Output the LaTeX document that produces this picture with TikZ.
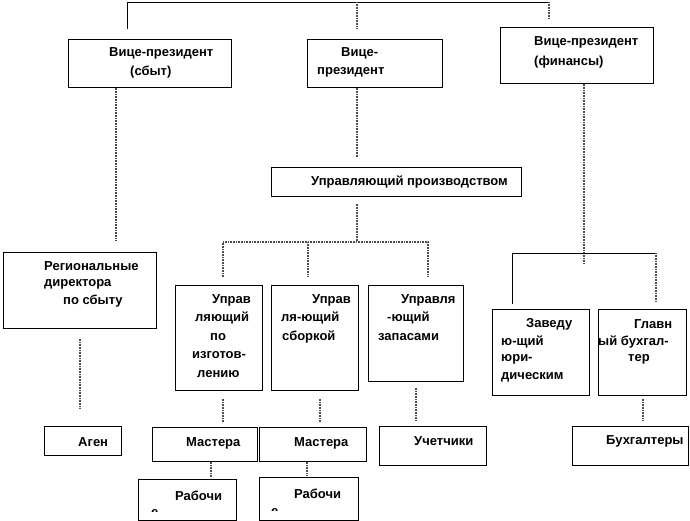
\documentclass[tikz,border=0pt]{standalone}
\usepackage{fontspec}
\setmainfont{Liberation Sans}
\begin{document}
\begin{tikzpicture}[x=1pt,y=-1pt,
  box/.style={draw=black,line width=0.7pt,anchor=north west,inner sep=0pt,fill=white},
  lbl/.style={anchor=west,inner sep=0pt,font=\fontsize{13}{15}\selectfont\bfseries},
  dotc/.style={draw=black!70,line width=1.2pt,dash pattern=on 0.8pt off 0.8pt},
  solc/.style={draw=black,line width=0.8pt}]
\useasboundingbox (0,0) rectangle (690,521);
% boxes
\node[box,minimum width=163pt,minimum height=48pt] (vps) at (68,39) {};
\node[box,minimum width=135pt,minimum height=48pt] (vpm) at (307,39) {};
\node[box,minimum width=153pt,minimum height=56pt] (vpf) at (500,27) {};
\node[box,minimum width=250pt,minimum height=29pt] (mgr) at (271,167) {};
\node[box,minimum width=153pt,minimum height=76pt] (reg) at (3,252) {};
\node[box,minimum width=87pt,minimum height=105pt] (man) at (175,285) {};
\node[box,minimum width=87pt,minimum height=105pt] (asm) at (271,285) {};
\node[box,minimum width=95pt,minimum height=96pt] (inv) at (368,285) {};
\node[box,minimum width=97pt,minimum height=86pt] (leg) at (492,309) {};
\node[box,minimum width=88pt,minimum height=86pt] (chf) at (598,309) {};
\node[box,minimum width=77pt,minimum height=29pt] (agn) at (44,426) {};
\node[box,minimum width=105pt,minimum height=34pt] (ms1) at (152,427) {};
\node[box,minimum width=107pt,minimum height=34pt] (ms2) at (259,427) {};
\node[box,minimum width=107pt,minimum height=39pt] (uch) at (379,426) {};
\node[box,minimum width=116pt,minimum height=39pt] (buh) at (572,426) {};
\node[box,minimum width=98pt,minimum height=41pt] (rb1) at (138,479) {};
\node[box,minimum width=99pt,minimum height=43pt] (rb2) at (259,477) {};
% labels
\node[lbl] (l1) at (109,53) {Вице-президент};
\node[lbl] (l2) at (130,72) {(сбыт)};
\node[lbl] (l3) at (341,53) {Вице-};
\node[lbl] (l4) at (317,72) {президент};
\node[lbl] (l5) at (534,42) {Вице-президент};
\node[lbl] (l6) at (534,62) {(финансы)};
\node[lbl] (l7) at (311,182) {Управляющий производством};
\node[lbl] (l8) at (44,266) {Региональные};
\node[lbl] (l9) at (44,284) {директора};
\node[lbl] (l10) at (63,301) {по сбыту};
\node[lbl] (l11) at (212,300) {Управ};
\node[lbl] (l12) at (195,318) {ляющий};
\node[lbl] (l13) at (210,337) {по};
\node[lbl] (l14) at (192,355) {изготов-};
\node[lbl] (l15) at (197,374) {лению};
\node[lbl] (l16) at (312,300) {Управ};
\node[lbl] (l17) at (281,318) {ля-ющий};
\node[lbl] (l18) at (282,337) {сборкой};
\node[lbl] (l19) at (401,300) {Управля};
\node[lbl] (l20) at (387,318) {-ющий};
\node[lbl] (l21) at (378,337) {запасами};
\node[lbl] (l22) at (526,324) {Заведу};
\node[lbl] (l23) at (501,342) {ю-щий};
\node[lbl] (l24) at (501,359) {юри-};
\node[lbl] (l25) at (501,377) {дическим};
\node[lbl] (l26) at (634,324) {Главн};
\node[lbl] (l27) at (598,342) {ый бухгал-};
\node[lbl] (l28) at (628,359) {тер};
\node[lbl] (l29) at (78,442) {Аген};
\node[lbl] (l30) at (186,443) {Мастера};
\node[lbl] (l31) at (294,443) {Мастера};
\node[lbl] (l32) at (414,441) {Учетчики};
\node[lbl] (l33) at (606,441) {Бухгалтеры};
\node[lbl] (l34) at (175,496) {Рабочи};
\node[lbl] (l35) at (294,494) {Рабочи};
\begin{scope}
\clip (140,500) rectangle (234,511.5);
\node[lbl,anchor=base west] (l36) at (151,516) {е};
\end{scope}
\begin{scope}
\clip (261,498) rectangle (356,510.5);
\node[lbl,anchor=base west] (l37) at (271,515) {е};
\end{scope}
% connector coordinates
\coordinate (t1) at (127,2);
\coordinate (t2) at (357,2);
\coordinate (t3) at (549,2);
\coordinate (x116) at (116,0);
\coordinate (x80) at (80,0);
\coordinate (b1) at (357,242);
\coordinate (h1) at (223,242);
\coordinate (h2) at (308,242);
\coordinate (h3) at (428,242);
\coordinate (f0) at (584,253);
\coordinate (f1) at (512,253);
\coordinate (f2) at (656,253);
\coordinate (x223) at (223,0);
\coordinate (x320) at (320,0);
\coordinate (x416) at (416,0);
\coordinate (x643) at (643,0);
\coordinate (x211) at (211,0);
\coordinate (x307) at (307,0);
% connectors
\draw[solc] ([yshift=10pt]vps.north -| t1) -- (t1) -- (t3);
\draw[dotc] (t2) -- ([yshift=10pt]vpm.north -| t2);
\draw[dotc] (t3) -- ([yshift=8pt]vpf.north -| t3);
\draw[dotc] (vps.south -| x116) -- ([yshift=12pt]reg.north -| x116);
\draw[dotc] ([yshift=-10pt]reg.south -| x80) -- ([yshift=17pt]agn.north -| x80);
\draw[dotc] (vpm.south -| b1) -- ([yshift=10pt]mgr.north -| b1);
\draw[dotc] ([yshift=-7pt]mgr.south -| b1) -- (b1);
\draw[dotc] ([yshift=8pt]man.north -| h1) -- (h1) -- (h3) -- ([yshift=8pt]inv.north -| h3);
\draw[dotc] (h2) -- ([yshift=8pt]asm.north -| h2);
\draw[dotc] (vpf.south -| f0) -- ([yshift=-11pt]f0);
\draw[solc] ([yshift=5pt]leg.north -| f1) -- (f1) -- (f2);
\draw[dotc] (f2) -- ([yshift=7pt]chf.north -| f2);
\draw[dotc] ([yshift=-8pt]man.south -| x223) -- ([yshift=5pt]ms1.north -| x223);
\draw[dotc] ([yshift=-8pt]asm.south -| x320) -- ([yshift=5pt]ms2.north -| x320);
\draw[dotc] ([yshift=-6pt]inv.south -| x416) -- ([yshift=5pt]uch.north -| x416);
\draw[dotc] ([yshift=-3pt]chf.south -| x643) -- ([yshift=5pt]buh.north -| x643);
\draw[dotc] (ms1.south -| x211) -- ([yshift=2pt]rb1.north -| x211);
\draw[dotc] (ms2.south -| x307) -- ([yshift=2pt]rb2.north -| x307);
\end{tikzpicture}
\end{document}
